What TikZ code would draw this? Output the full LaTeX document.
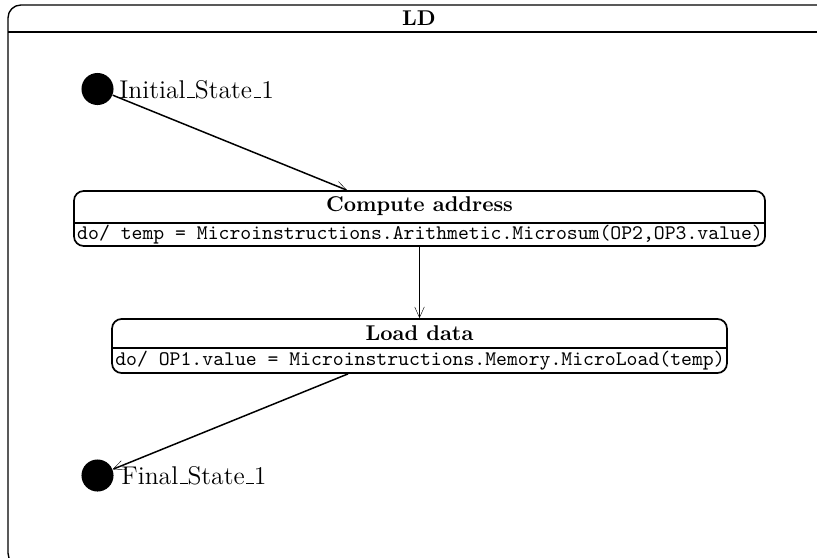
\documentclass[tikz,border=0pt]{standalone}
\usetikzlibrary{arrows.meta}
% short raised rule used as the underscore in state names
\newcommand{\usc}{\leavevmode\kern.06em\vbox{\hrule width.3em height .4pt}}
\begin{document}
\begin{tikzpicture}[x=0.468pt, y=-0.468pt,
  frameline/.style={line width=0.65pt},
  statebox/.style={draw, line width=0.8pt, rounded corners=4.5pt, inner sep=0pt},
  pseudo/.style={circle, fill=black, inner sep=0pt, minimum size=15pt},
  trans/.style={line width=0.7pt, -{Straight Barb[length=5pt, width=4.5pt, line width=0.2pt]}},
  statelabel/.style={font=\large, anchor=base west, inner sep=0pt},
  titletext/.style={font=\bfseries, inner sep=0pt},
  actiontext/.style={font=\fontsize{9.7}{12}\selectfont\ttfamily, inner sep=0pt}]
\useasboundingbox (0,0) rectangle (817,558);

% enclosing state machine frame
\draw[frameline, rounded corners=6pt] (8,5) rectangle (840,566);
\draw[line width=1.1pt] (8,32) -- (840,32);
\node[titletext] (ldtitle) at (419,18) {LD};

% pseudo states
\node[pseudo] (init) at (97.5,89) {};
\node[statelabel] (initlabel) at (119,98) {Initial\usc State\usc 1};
\node[pseudo] (final) at (97.5,475.5) {};
\node[statelabel] (finallabel) at (121,484) {Final\usc State\usc 1};

% state: Compute address
\node[statebox, minimum width=323.4pt, minimum height=25.7pt] (ca) at (419.5,218.5) {};
\draw[line width=0.8pt] (ca.west |- 0,223) -- (ca.east |- 0,223);
\node[titletext] (catitle) at (419.5,206) {Compute address};
\node[actiontext] (cabody) at (420,235) {do/ temp = Microinstructions.Arithmetic.Microsum(OP2,OP3.value)};

% state: Load data
\node[statebox, minimum width=287.8pt, minimum height=25.3pt] (ld) at (419.5,346) {};
\draw[line width=0.8pt] (ld.west |- 0,348) -- (ld.east |- 0,348);
\node[titletext] (ldtitle2) at (419.5,333) {Load data};
\node[actiontext] (ldbody) at (420,361) {do/ OP1.value = Microinstructions.Memory.MicroLoad(temp)};

% transitions
\draw[trans] (init) -- (ca.north -| 347,0);
\draw[trans] (ca.south) -- (ld.north);
\draw[trans] (ld.south -| 348,0) -- (final);
\end{tikzpicture}
\end{document}
